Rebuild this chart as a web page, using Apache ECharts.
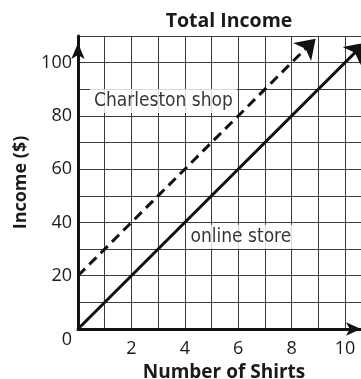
<!DOCTYPE html>
<html>
<head>
<meta charset="utf-8">
<script src="https://cdn.jsdelivr.net/npm/echarts@6/dist/echarts.min.js"></script>
<style>
  html, body { margin: 0; padding: 0; background: #fff; }
  #chart { width: 361px; height: 379px; }
</style>
</head>
<body>
<div id="chart"></div>
<script>
// Income ($) against number of shirts sold, for two sales channels
const chartTitle = 'Total Income';
const xName = 'Number of Shirts';
const yName = 'Income ($)';

// line endpoints [shirts, income]
const onlineStore = [[0, 0], [10.75, 107.5]];
const charlestonShop = [[0, 20], [8.9, 109]];

// line captions [shirts, income, text]
const captionOnline = [6.1, 34.6, 'online store'];
const captionShop = [3.2, 85.6, 'Charleston shop'];

const xTickLabels = [2, 4, 6, 8, 10];
const yTickLabels = [0, 20, 40, 60, 80, 100];

const chart = echarts.init(document.getElementById('chart'));

const numFont = '"Open Sans", "Noto Sans", sans-serif';
const condFont = '"DejaVu Sans Condensed", "Liberation Sans Narrow", sans-serif';

function caption(c) {
  return {
    type: 'scatter',
    symbolSize: 0,
    silent: true,
    z: 5,
    data: [{ value: [c[0], c[1]], name: c[2] }],
    label: {
      show: true,
      position: 'inside',
      formatter: '{b}',
      fontFamily: condFont,
      fontSize: 19,
      color: '#000',
      backgroundColor: '#fff',
      padding: [3, 4, 2, 4]
    }
  };
}

function arrowLine(coords, dash) {
  return {
    type: 'lines',
    coordinateSystem: 'cartesian2d',
    silent: true,
    z: 3,
    symbol: ['none', 'arrow'],
    symbolSize: [13, 19],
    lineStyle: { color: '#111', width: 3, opacity: 1, type: dash || 'solid' },
    data: [{ coords: coords }]
  };
}

chart.setOption({
  animation: false,
  title: {
    text: chartTitle,
    left: 224,
    top: 6,
    textAlign: 'center',
    textStyle: { fontFamily: numFont, fontWeight: 'bold', fontSize: 19.5, color: '#1a1a1a' }
  },
  grid: { left: 78, right: 0, top: 36, bottom: 50, containLabel: false, outerBoundsMode: 'none' },
  xAxis: {
    type: 'value',
    min: 0,
    max: 10.6,
    interval: 1,
    name: xName,
    nameLocation: 'middle',
    nameGap: 30,
    nameTextStyle: { fontFamily: numFont, fontWeight: 'bold', fontSize: 19, color: '#1a1a1a', padding: [0, 0, 0, 9] },
    axisLine: {
      show: true,
      symbol: ['none', 'arrow'],
      symbolSize: [10, 15],
      lineStyle: { color: '#111', width: 3 }
    },
    axisTick: { show: false },
    axisLabel: {
      fontFamily: numFont,
      fontSize: 18,
      color: '#1a1a1a',
      margin: 11,
      formatter: v => (xTickLabels.indexOf(v) >= 0 ? String(v) : '')
    },
    splitLine: { show: true, lineStyle: { color: '#3c3c3c', width: 1 } }
  },
  yAxis: {
    type: 'value',
    min: 0,
    max: 110,
    interval: 10,
    name: yName,
    nameLocation: 'middle',
    nameGap: 45,
    nameTextStyle: { fontFamily: numFont, fontWeight: 'bold', fontSize: 18, color: '#1a1a1a' },
    axisLine: {
      show: true,
      symbol: ['none', 'arrow'],
      symbolSize: [10, 16],
      symbolOffset: [0, -7],
      lineStyle: { color: '#111', width: 3 }
    },
    axisTick: { show: false },
    axisLabel: {
      fontFamily: numFont,
      fontSize: 18,
      color: '#1a1a1a',
      margin: 6,
      formatter: v => (yTickLabels.indexOf(v) < 0 ? '' : (v === 0 ? '{z|0}' : String(v))),
      rich: { z: { fontFamily: numFont, fontSize: 18, color: '#1a1a1a', padding: [22, 0, 0, 0] } }
    },
    splitLine: { show: true, lineStyle: { color: '#3c3c3c', width: 1 } }
  },
  series: [
    arrowLine(onlineStore),
    arrowLine(charlestonShop, [10, 6]),
    caption(captionShop),
    caption(captionOnline)
  ]
});
</script>
</body>
</html>
